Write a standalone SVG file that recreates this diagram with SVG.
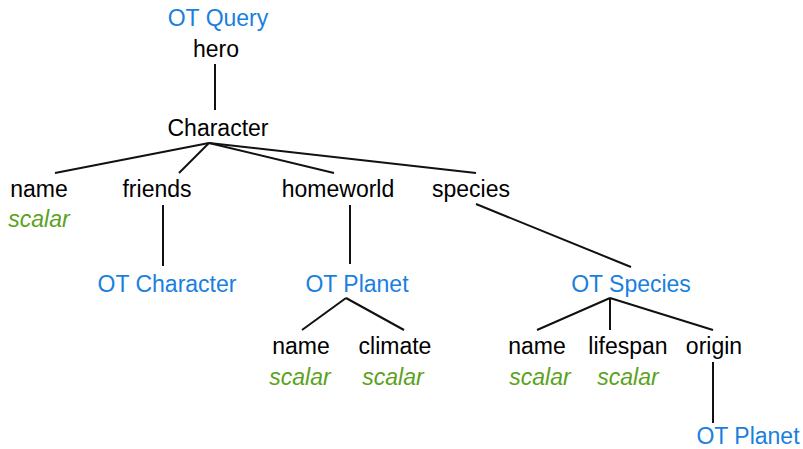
<svg xmlns="http://www.w3.org/2000/svg" width="803" height="449" viewBox="0 0 803 449">
<style>
text{font-family:"Liberation Sans",Arial,sans-serif;font-size:23px;text-anchor:middle;fill:#000}
.t{fill:#1a80e0}
.s{fill:#5aa21c;font-style:italic}
.c line{stroke:#111;stroke-width:2;fill:none}
</style>
<rect width="803" height="449" fill="#fff"/>
<g class="c" id="connectors">
<line x1="215" y1="64" x2="215" y2="110"/>
<line x1="209" y1="143" x2="55" y2="173"/>
<line x1="209" y1="143" x2="179" y2="173"/>
<line x1="209" y1="143" x2="334" y2="173"/>
<line x1="209" y1="143" x2="476" y2="173"/>
<line x1="163" y1="205" x2="163" y2="266"/>
<line x1="350" y1="205" x2="350" y2="264"/>
<line x1="476" y1="204" x2="631" y2="267"/>
<line x1="346" y1="298" x2="302" y2="330"/>
<line x1="346" y1="298" x2="404" y2="330"/>
<line x1="610" y1="298" x2="537" y2="330"/>
<line x1="610" y1="298" x2="610" y2="330"/>
<line x1="610" y1="298" x2="713" y2="330"/>
<line x1="713" y1="362" x2="713" y2="423"/>
</g>
<g id="otquery"><text class="t" x="218" y="26">OT Query</text></g>
<g id="hero"><text x="216" y="57">hero</text></g>
<g id="character"><text x="218" y="136">Character</text></g>
<g id="name1"><text x="39" y="197">name</text><text class="s" x="39" y="227">scalar</text></g>
<g id="friends"><text x="157" y="197">friends</text></g>
<g id="homeworld"><text x="338" y="197">homeworld</text></g>
<g id="species"><text x="471" y="197">species</text></g>
<g id="otcharacter"><text class="t" x="167" y="292">OT Character</text></g>
<g id="otplanet1"><text class="t" x="357" y="292">OT Planet</text></g>
<g id="otspecies"><text class="t" x="631" y="292">OT Species</text></g>
<g id="name2"><text x="301" y="354">name</text><text class="s" x="300" y="385">scalar</text></g>
<g id="climate"><text x="395" y="354">climate</text><text class="s" x="393" y="385">scalar</text></g>
<g id="name3"><text x="537" y="354">name</text><text class="s" x="540" y="385">scalar</text></g>
<g id="lifespan"><text x="628" y="354">lifespan</text><text class="s" x="628" y="385">scalar</text></g>
<g id="origin"><text x="714" y="354">origin</text></g>
<g id="otplanet2"><text class="t" x="748" y="444">OT Planet</text></g>
</svg>
